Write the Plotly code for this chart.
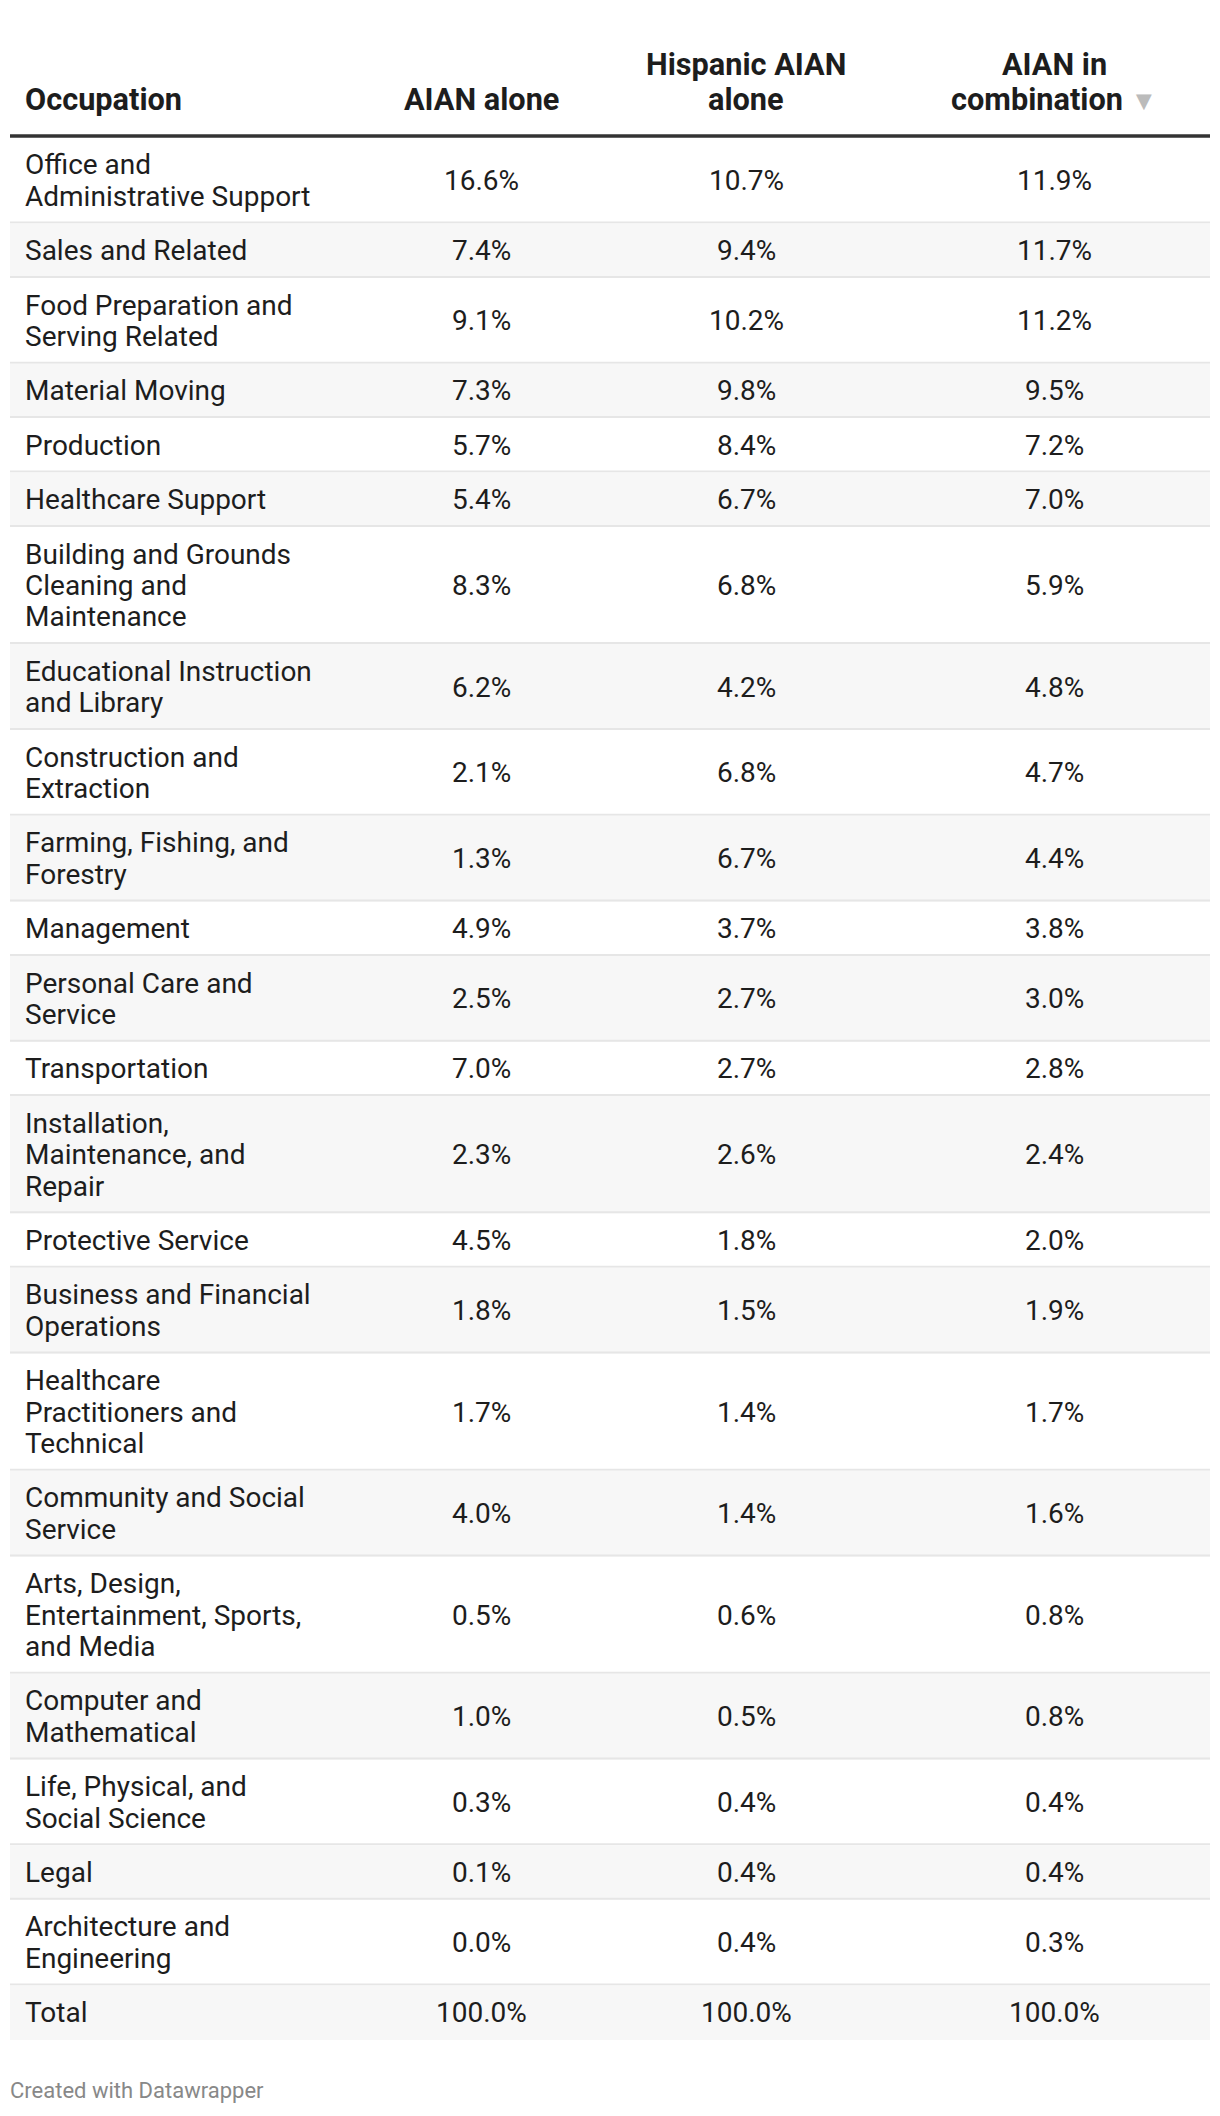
import plotly.graph_objects as go

# ---------------- data ----------------
occupations = [
    "Office and\nAdministrative Support",
    "Sales and Related",
    "Food Preparation and\nServing Related",
    "Material Moving",
    "Production",
    "Healthcare Support",
    "Building and Grounds\nCleaning and\nMaintenance",
    "Educational Instruction\nand Library",
    "Construction and\nExtraction",
    "Farming, Fishing, and\nForestry",
    "Management",
    "Personal Care and\nService",
    "Transportation",
    "Installation,\nMaintenance, and\nRepair",
    "Protective Service",
    "Business and Financial\nOperations",
    "Healthcare\nPractitioners and\nTechnical",
    "Community and Social\nService",
    "Arts, Design,\nEntertainment, Sports,\nand Media",
    "Computer and\nMathematical",
    "Life, Physical, and\nSocial Science",
    "Legal",
    "Architecture and\nEngineering",
    "Total",
]
aian_alone = [16.6, 7.4, 9.1, 7.3, 5.7, 5.4, 8.3, 6.2, 2.1, 1.3, 4.9, 2.5, 7.0,
              2.3, 4.5, 1.8, 1.7, 4.0, 0.5, 1.0, 0.3, 0.1, 0.0, 100.0]
hispanic_aian_alone = [10.7, 9.4, 10.2, 9.8, 8.4, 6.7, 6.8, 4.2, 6.8, 6.7, 3.7,
                       2.7, 2.7, 2.6, 1.8, 1.5, 1.4, 1.4, 0.6, 0.5, 0.4, 0.4,
                       0.4, 100.0]
aian_in_combination = [11.9, 11.7, 11.2, 9.5, 7.2, 7.0, 5.9, 4.8, 4.7, 4.4, 3.8,
                       3.0, 2.8, 2.4, 2.0, 1.9, 1.7, 1.6, 0.8, 0.8, 0.4, 0.4,
                       0.3, 100.0]
headers = ["Occupation", "AIAN alone", "Hispanic AIAN\nalone", "AIAN in\ncombination"]
footer = "Created with Datawrapper"

# ---------------- layout constants ----------------
W, H = 1220, 2116
OFF = 8  # default page body margin
FONT = "Roboto, Arial, sans-serif"
TXT = "#1d1d1d"
BODY_FS = 28
HEAD_FS = 30.7
LINE_H = 31.4
PAD = 23.0
TABLE_L, TABLE_R = 10, 1210
LABEL_X = 24
COL_X = [481, 746, 1054]
TABLE_TOP = 137.7
HEAD_BASE = [75, 110]

fig = go.Figure()
shapes = []
annotations = []


def add_text(x, ycenter, text, anchor="center", size=BODY_FS, color=TXT, weight=400):
    annotations.append(dict(
        x=x, y=ycenter, xref="x", yref="y", text=text, showarrow=False,
        xanchor=anchor, yanchor="middle", borderpad=0,
        font=dict(family=FONT, size=size, color=color, weight=weight),
    ))


def base_to_center(base, fs):
    return base - 0.342 * fs


# header
header_x = [LABEL_X] + COL_X
for i, h in enumerate(headers):
    lines = h.split("\n")
    bases = HEAD_BASE[-len(lines):]
    for j, (ln, b) in enumerate(zip(lines, bases)):
        if i == 3 and j == len(lines) - 1:
            ln = ln + " <span style='color:#bbbbbb;font-size:27px'>▼</span>"
        add_text(header_x[i], base_to_center(b, HEAD_FS), ln,
                 anchor="left" if i == 0 else "center", size=HEAD_FS, weight=700)

shapes.append(dict(type="rect", xref="x", yref="y", x0=TABLE_L, x1=TABLE_R,
                   y0=134.3, y1=137.7, fillcolor="#333333", line=dict(width=0)))

# body rows
y = TABLE_TOP
n = len(occupations)
for r in range(n):
    lines = occupations[r].split("\n")
    h = PAD + LINE_H * len(lines)
    top, bot = y, y + h
    if r % 2 == 1:
        shapes.append(dict(type="rect", xref="x", yref="y", x0=TABLE_L, x1=TABLE_R,
                           y0=top, y1=bot, fillcolor="#f7f7f7", line=dict(width=0),
                           layer="below"))
    if r < n - 1:
        shapes.append(dict(type="rect", xref="x", yref="y", x0=TABLE_L, x1=TABLE_R,
                           y0=bot - 2, y1=bot, fillcolor="#e6e6e6", line=dict(width=0),
                           layer="below"))
    cy = (top + bot) / 2
    for j, ln in enumerate(lines):
        add_text(LABEL_X, cy + (j - (len(lines) - 1) / 2) * LINE_H, ln, anchor="left")
    for cx, series in zip(COL_X, [aian_alone, hispanic_aian_alone, aian_in_combination]):
        add_text(cx, cy, f"{series[r]:.1f}%")
    y = bot

# footer
add_text(9, base_to_center(2098, 22), footer, anchor="left", size=22, color="#888888")

# invisible trace to anchor axes
fig.add_trace(go.Scatter(x=[OFF, W - OFF], y=[OFF, H - OFF], mode="markers",
                         marker=dict(opacity=0), hoverinfo="skip", showlegend=False))

fig.update_layout(
    width=W - 2 * OFF, height=H - 2 * OFF, margin=dict(l=0, r=0, t=0, b=0),
    paper_bgcolor="white", plot_bgcolor="white",
    xaxis=dict(range=[OFF, W - OFF], visible=False, fixedrange=True),
    yaxis=dict(range=[H - OFF, OFF], visible=False, fixedrange=True),
    shapes=shapes, annotations=annotations, showlegend=False,
)
fig.write_html("out.html", config={"displayModeBar": False})
